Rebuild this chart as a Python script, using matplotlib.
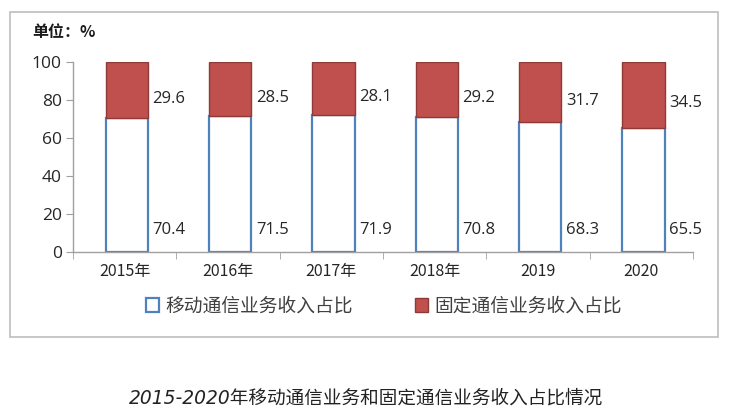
import matplotlib
matplotlib.use("Agg")
import matplotlib.pyplot as plt
from matplotlib.patches import Rectangle, Patch
import numpy as np

plt.rcParams['font.family'] = ['Noto Sans CJK SC', 'DejaVu Sans']

categories = ['2015年', '2016年', '2017年', '2018年', '2019', '2020']
mobile = [70.4, 71.5, 71.9, 70.8, 68.3, 65.5]
fixed = [29.6, 28.5, 28.1, 29.2, 31.7, 34.5]
yticks = [0, 20, 40, 60, 80, 100]

fig = plt.figure(figsize=(7.35, 4.13), dpi=100)
ax = fig.add_axes([73/735, 1-252/413, (693-73)/735, 190/413])

x = np.arange(len(categories))
w = 0.41
blue = '#4f81bd'
red = '#c0504d'
ax.bar(x + 0.02, mobile, width=w, color='white', edgecolor=blue, linewidth=1.6, zorder=2)
ax.bar(x + 0.02, fixed, width=w, bottom=mobile, color=red, edgecolor='#8e3b38', linewidth=1.0, zorder=2)

txtc = '#262626'
for i in range(len(categories)):
    ax.text(x[i] + 0.27, 11.5, f'{mobile[i]:.1f}', ha='left', va='center', fontsize=12,
            color=txtc, family=['Open Sans', 'DejaVu Sans'])
    ax.text(x[i] + 0.27, mobile[i] + fixed[i] / 2 - 4.5, f'{fixed[i]:.1f}', ha='left', va='center',
            fontsize=12, color=txtc, family=['Open Sans', 'DejaVu Sans'])

ax.set_xlim(-0.5, len(categories) - 0.5)
ax.set_ylim(0, 100)
ax.set_yticks(yticks)
ax.set_yticklabels([str(v) for v in yticks], fontsize=12.5, color=txtc, family=['Open Sans', 'DejaVu Sans'])
ax.set_xticks(x)
ax.set_xticklabels(categories, fontsize=11.5, color=txtc)
ax.set_xticks(np.arange(-0.5, len(categories)), minor=True)
ax.tick_params(axis='x', which='major', length=0, pad=8)
ax.tick_params(axis='x', which='minor', length=5, color='#a0a0a0', direction='out')
ax.tick_params(axis='y', length=5, color='#a0a0a0', direction='out', pad=3)
for s in ['top', 'right']:
    ax.spines[s].set_visible(False)
for s in ['left', 'bottom']:
    ax.spines[s].set_color('#a0a0a0')
    ax.spines[s].set_linewidth(1.0)

fig.text(32/735, 1-32/413, '单位：%', fontsize=11.5, fontweight='bold', color='#1a1a1a', va='center', ha='left')

handles = [Patch(facecolor='white', edgecolor=blue, linewidth=1.6, label='移动通信业务收入占比'),
           Patch(facecolor=red, edgecolor='#8e3b38', linewidth=1.0, label='固定通信业务收入占比')]
fig.legend(handles=handles, loc='center', bbox_to_anchor=(384/735, 1-306/413), ncol=2, frameon=False,
           fontsize=13.5, handlelength=0.7, handleheight=0.7, handletextpad=0.35, columnspacing=3.3,
           labelcolor='#404040')

fig.patches.append(Rectangle((10/735, 1-337/413), 708/735, 325/413, transform=fig.transFigure,
                             fill=False, edgecolor='#bdbdbd', linewidth=1.2))

fig.text(366/735, 1-398/413, '2015-2020年移动通信业务和固定通信业务收入占比情况', fontsize=13.4,
         style='italic', ha='center', va='center', color='#222222',
         family=['DejaVu Sans', 'Noto Sans CJK SC'])

fig.savefig('out.png', dpi=100)
